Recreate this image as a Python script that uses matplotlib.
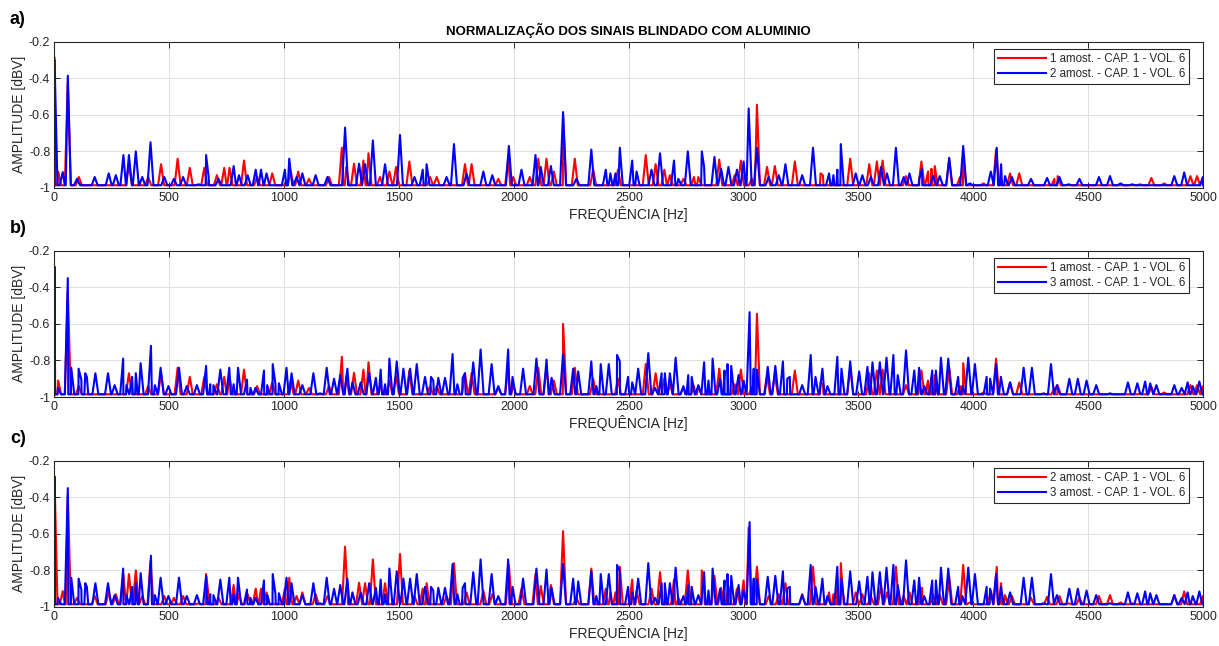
import numpy as np
import matplotlib
matplotlib.use("Agg")
import matplotlib.pyplot as plt

plt.rcParams['font.family'] = ['Liberation Sans', 'DejaVu Sans']

# peak frequencies (Hz) and normalised amplitudes (dBV) of each sample
amostra1_f = [0, 16, 58, 106, 324, 408, 464, 536, 589, 652, 707, 739, 762, 825, 882, 948,
              1028, 1061, 1108, 1195, 1251, 1270, 1304, 1345, 1367, 1417, 1458, 1487, 1545,
              1635, 1664, 1787, 1816, 1932, 1975, 1997, 2069, 2106, 2142, 2174, 2214, 2226,
              2265, 2345, 2453, 2574, 2617, 2655, 2679, 2738, 2784, 2803, 2894, 2961, 2988,
              3036, 3058, 3102, 3136, 3223, 3335, 3345, 3464, 3547, 3580, 3605, 3707, 3774,
              3803, 3818, 3832, 3895, 3942, 3956, 4044, 4099, 4160, 4200, 4353, 4367, 4726,
              4775, 4831, 4945, 4974, 5000]
amostra1_a = [-0.30, -0.91, -0.42, -0.94, -0.87, -0.94, -0.87, -0.84, -0.89, -0.89, -0.93, -0.89,
              -0.89, -0.85, -0.94, -0.92, -0.91, -0.91, -0.95, -0.94, -0.78, -0.885, -0.867,
              -0.85, -0.81, -0.94, -0.91, -0.885, -0.855, -0.94, -0.94, -0.87, -0.87, -0.95,
              -0.84, -0.94, -0.94, -0.84, -0.84, -0.91, -0.60, -0.92, -0.84, -0.90, -0.90,
              -0.82, -0.87, -0.90, -0.93, -0.95, -0.94, -0.94, -0.845, -0.93, -0.85, -0.95,
              -0.545, -0.885, -0.88, -0.855, -0.92, -0.93, -0.84, -0.87, -0.855, -0.85, -0.935,
              -0.855, -0.91, -0.895, -0.88, -0.84, -0.94, -0.815, -0.975, -0.79, -0.92, -0.92,
              -0.95, -0.935, -0.98, -0.945, -0.975, -0.935, -0.935, -0.94]

amostra2_f = [0, 36, 58, 98, 175, 236, 267, 300, 324, 354, 382, 418, 478, 520, 560, 627, 660,
              671, 714, 780, 803, 841, 876, 899, 923, 1003, 1022, 1054, 1079, 1137, 1188, 1265,
              1326, 1352, 1386, 1439, 1504, 1567, 1603, 1620, 1707, 1739, 1794, 1867, 1906,
              1978, 2033, 2094, 2117, 2161, 2214, 2272, 2337, 2400, 2420, 2442, 2461, 2515,
              2534, 2599, 2636, 2697, 2716, 2757, 2818, 2828, 2873, 2902, 2934, 2971, 3000,
              3022, 3058, 3109, 3153, 3182, 3255, 3302, 3372, 3391, 3408, 3423, 3488, 3517,
              3554, 3598, 3624, 3663, 3697, 3722, 3765, 3777, 3825, 3854, 3895, 3956, 3985,
              4076, 4102, 4121, 4138, 4168, 4251, 4321, 4375, 4415, 4462, 4547, 4595, 4641,
              4692, 4875, 4918, 5000]
amostra2_a = [-0.286, -0.913, -0.386, -0.95, -0.94, -0.92, -0.93, -0.82, -0.82, -0.80, -0.94,
              -0.75, -0.94, -0.95, -0.94, -0.98, -0.82, -0.94, -0.95, -0.88, -0.93, -0.93, -0.90,
              -0.90, -0.92, -0.90, -0.84, -0.94, -0.92, -0.93, -0.94, -0.67, -0.867, -0.87,
              -0.74, -0.87, -0.71, -0.94, -0.90, -0.87, -0.94, -0.76, -0.92, -0.91, -0.93, -0.77,
              -0.90, -0.82, -0.885, -0.88, -0.585, -0.95, -0.79, -0.90, -0.92, -0.92, -0.78,
              -0.85, -0.91, -0.90, -0.81, -0.85, -0.95, -0.80, -0.80, -0.885, -0.83, -0.895,
              -0.885, -0.90, -0.855, -0.565, -0.78, -0.94, -0.93, -0.87, -0.93, -0.78, -0.92,
              -0.93, -0.90, -0.76, -0.92, -0.93, -0.94, -0.885, -0.92, -0.78, -0.94, -0.92,
              -0.95, -0.895, -0.935, -0.935, -0.835, -0.77, -0.975, -0.91, -0.78, -0.87, -0.935,
              -0.94, -0.95, -0.945, -0.94, -0.98, -0.95, -0.94, -0.935, -0.975, -0.98, -0.935,
              -0.915, -0.94]

amostra3_f = [0, 15, 58, 73, 105, 117, 134, 141, 178, 233, 262, 299, 313, 338, 354, 375, 420,
              437, 462, 496, 542, 576, 620, 660, 678, 692, 722, 761, 780, 799, 838, 853, 875,
              912, 926, 950, 962, 977, 1010, 1032, 1079, 1127, 1156, 1185, 1217, 1244, 1275,
              1297, 1333, 1370, 1399, 1420, 1439, 1458, 1490, 1519, 1548, 1577, 1613, 1639,
              1649, 1671, 1700, 1733, 1754, 1777, 1787, 1823, 1855, 1903, 1932, 1975, 1994,
              2040, 2098, 2142, 2164, 2214, 2258, 2280, 2337, 2359, 2378, 2413, 2449, 2461,
              2497, 2515, 2541, 2585, 2614, 2643, 2657, 2679, 2704, 2738, 2759, 2774, 2803,
              2828, 2847, 2865, 2898, 2917, 2930, 2946, 2978, 3000, 3026, 3044, 3058, 3105,
              3138, 3171, 3190, 3201, 3255, 3292, 3313, 3343, 3365, 3408, 3426, 3464, 3503,
              3539, 3561, 3593, 3622, 3652, 3671, 3707, 3743, 3764, 3786, 3821, 3837, 3859,
              3891, 3934, 3952, 3978, 4007, 4058, 4073, 4099, 4120, 4160, 4219, 4255, 4306,
              4338, 4364, 4418, 4455, 4493, 4535, 4595, 4673, 4714, 4748, 4770, 4797, 4875,
              4907, 4933, 4955, 4984]
amostra3_a = [-0.287, -0.95, -0.35, -0.84, -0.845, -0.905, -0.87, -0.89, -0.87, -0.87, -0.935,
              -0.79, -0.935, -0.89, -0.87, -0.815, -0.72, -0.935, -0.84, -0.94, -0.84, -0.94,
              -0.935, -0.83, -0.93, -0.935, -0.85, -0.84, -0.93, -0.84, -0.905, -0.95, -0.95,
              -0.855, -0.935, -0.82, -0.93, -0.925, -0.84, -0.87, -0.935, -0.87, -0.98, -0.84,
              -0.90, -0.88, -0.845, -0.92, -0.92, -0.87, -0.895, -0.85, -0.93, -0.79, -0.805,
              -0.845, -0.845, -0.82, -0.89, -0.89, -0.91, -0.895, -0.895, -0.765, -0.93, -0.895,
              -0.87, -0.81, -0.74, -0.82, -0.94, -0.74, -0.89, -0.845, -0.79, -0.795, -0.895,
              -0.765, -0.845, -0.86, -0.805, -0.94, -0.82, -0.82, -0.77, -0.805, -0.89, -0.92,
              -0.845, -0.76, -0.95, -0.87, -0.87, -0.87, -0.785, -0.94, -0.88, -0.89, -0.935,
              -0.81, -0.91, -0.79, -0.90, -0.855, -0.82, -0.83, -0.88, -0.91, -0.536, -0.845,
              -0.85, -0.835, -0.83, -0.805, -0.90, -0.89, -0.935, -0.77, -0.89, -0.845, -0.94,
              -0.78, -0.845, -0.805, -0.86, -0.835, -0.81, -0.81, -0.785, -0.77, -0.88, -0.745,
              -0.855, -0.84, -0.94, -0.855, -0.855, -0.785, -0.79, -0.89, -0.94, -0.785, -0.82,
              -0.89, -0.90, -0.82, -0.89, -0.92, -0.84, -0.84, -0.98, -0.82, -0.935, -0.90,
              -0.90, -0.91, -0.935, -0.98, -0.92, -0.925, -0.915, -0.925, -0.935, -0.935, -0.95,
              -0.92, -0.94, -0.915]

rotulos = ['1 amost. - CAP. 1 - VOL. 6',
           '2 amost. - CAP. 1 - VOL. 6',
           '3 amost. - CAP. 1 - VOL. 6']

BASE = -0.985
MEIA_LARG = 13.0  # half width of each peak, Hz


def traco(freqs, amps):
    # polyline: baseline -> peak -> baseline for every peak
    pts = []
    for f, a in zip(freqs, amps):
        pts.append((max(f - MEIA_LARG, 0), BASE))
        pts.append((f, a))
        pts.append((min(f + MEIA_LARG, 5000), BASE))
    pts.sort(key=lambda p: p[0])
    pts = np.array(pts)
    return pts[:, 0], pts[:, 1]


series = [traco(amostra1_f, amostra1_a),
          traco(amostra2_f, amostra2_a),
          traco(amostra3_f, amostra3_a)]

# (red sample, blue sample) in each panel
pares = [(0, 1), (0, 2), (1, 2)]
letras = ['a)', 'b)', 'c)']

fig = plt.figure(figsize=(12.19, 6.46), dpi=100)
cinza = '#262626'
bottoms = [0.709, 0.3854, 0.0604]

for k, (iv, ia) in enumerate(pares):
    ax = fig.add_axes([0.0447, bottoms[k], 0.9422, 0.2265])
    ax.plot(*series[iv], color='red', lw=1.5, label=rotulos[iv])
    ax.plot(*series[ia], color='blue', lw=1.5, label=rotulos[ia])
    ax.set_xlim(0, 5000)
    ax.set_ylim(-1, -0.2)
    ax.set_xticks(np.arange(0, 5001, 500))
    ax.set_yticks([-1, -0.8, -0.6, -0.4, -0.2])
    ax.set_yticklabels(['-1', '-0.8', '-0.6', '-0.4', '-0.2'])
    ax.tick_params(direction='in', top=True, right=True, length=4, width=0.7,
                   labelsize=9, colors=cinza, labelcolor=cinza, pad=3)
    ax.grid(True, color='#dedede', lw=0.7)
    ax.set_axisbelow(True)
    for s in ax.spines.values():
        s.set_color(cinza)
        s.set_linewidth(0.8)
    ax.set_xlabel('FREQUÊNCIA [Hz]', fontsize=10, color=cinza, labelpad=1)
    ax.set_ylabel('AMPLITUDE [dBV]', fontsize=10, color=cinza, labelpad=2)
    leg = ax.legend(loc='upper right', bbox_to_anchor=(0.988, 0.948), fontsize=8.3,
                    fancybox=False, edgecolor=cinza, framealpha=1, handlelength=4.2,
                    borderpad=0.35, labelspacing=0.25, handletextpad=0.3, borderaxespad=0)
    leg.get_frame().set_linewidth(0.8)
    for t in leg.get_texts():
        t.set_color(cinza)
    if k == 0:
        ax.set_title('NORMALIZAÇÃO DOS SINAIS BLINDADO COM ALUMINIO', fontsize=9.5,
                     fontweight='bold', pad=5)
    fig.text(0.008, bottoms[k] + 0.2265 + 0.035, letras[k], fontsize=13,
             fontweight='bold', va='center')

plt.savefig('out.png', dpi=100)
